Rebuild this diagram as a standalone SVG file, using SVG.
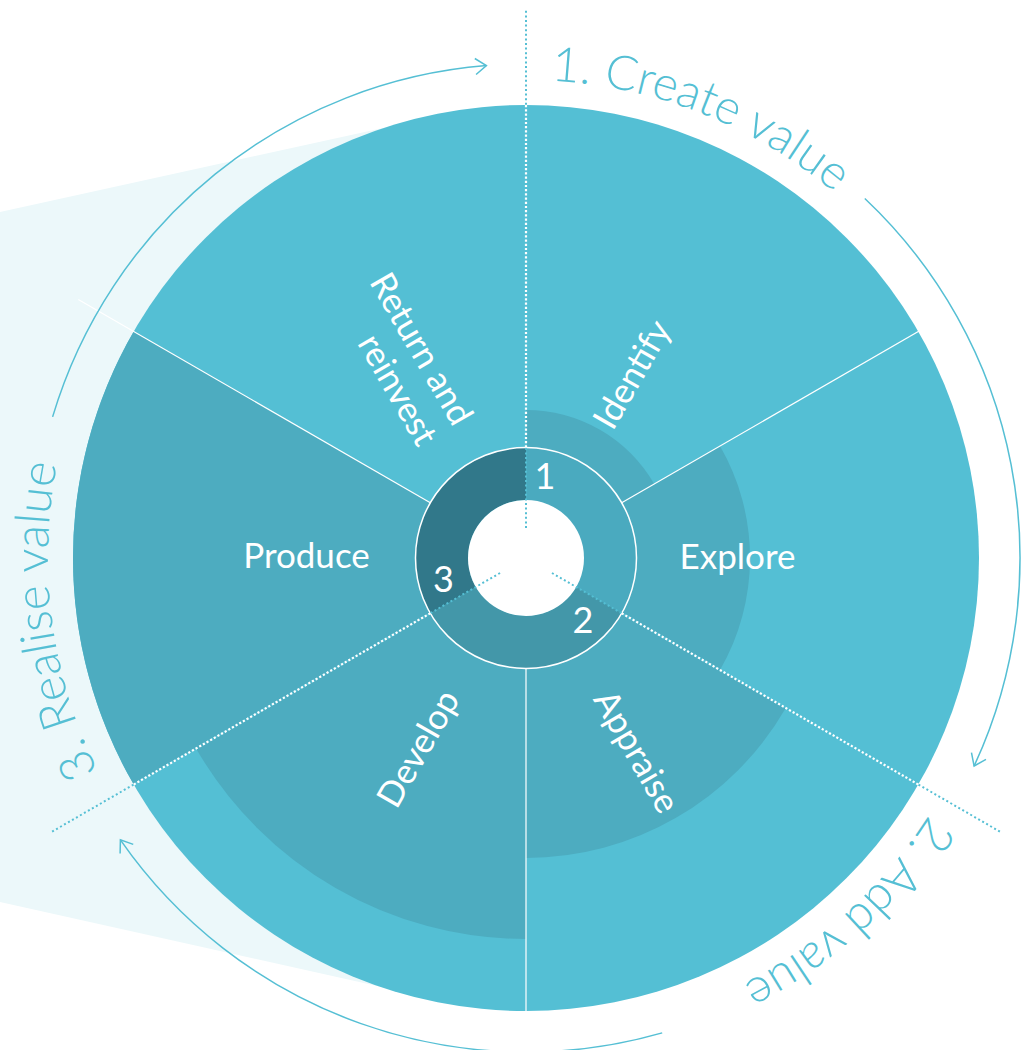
<svg xmlns="http://www.w3.org/2000/svg" width="1032" height="1050" viewBox="0 0 1032 1050">
<style>
.light{fill:#54BFD4}
.dark{fill:#4DACC0}
.sep{stroke:#FFFFFF;stroke-width:1.2;fill:none}
.dotT{stroke:#55BFD4;stroke-width:2;stroke-dasharray:2 2.6;fill:none}
.dotW{stroke:#FFFFFF;stroke-width:2.2;stroke-dasharray:2.2 2;fill:none}
.arc{stroke:#55BFD4;stroke-width:1.5;fill:none}
.lbl{font-family:Lato,'Liberation Sans',sans-serif;font-size:35px;fill:#FFFFFF}
.num{font-family:Lato,'Liberation Sans',sans-serif;font-size:36px;fill:#FFFFFF;text-anchor:middle}
.stage{font-family:Lato,'Liberation Sans',sans-serif;font-weight:300;font-size:48px;fill:#55BFD4}
</style>
<defs>
<marker id="arrow" markerUnits="userSpaceOnUse" markerWidth="30" markerHeight="30" viewBox="-15 -15 30 30" refX="0" refY="0" orient="auto">
<path d="M -11 -8 L 0 0 L -11 8" fill="none" stroke="#55BFD4" stroke-width="1.5"/>
</marker>
<path id="p1" d="M 551.0 80.7 A 478 478 0 0 1 939.96 319"/>
<path id="p2" d="M 929.1 814.8 A 478 478 0 0 1 526 1036"/>
<path id="p3" d="M 98.2 771.3 A 478 478 0 0 1 112.04 319"/>
</defs>

<g id="background">
<polygon points="0,212 440,115.5 526,558 440,1000 0,902" fill="#ECF8FA"/>
</g>

<g id="wheel">
<circle cx="526" cy="558" r="453" class="light"/>
<path class="dark" d="M 526 558 L 526 410 A 148 148 0 0 1 654.17 484 Z"/>
<path class="dark" d="M 526 558 L 719.99 446 A 224 224 0 0 1 719.99 670 Z"/>
<path class="dark" d="M 526 558 L 785.81 708 A 300 300 0 0 1 526 858 Z"/>
<path class="dark" d="M 526 558 L 526 939 A 381 381 0 0 1 196.04 748.5 Z"/>
<path class="dark" d="M 526 558 L 133.69 784.5 A 453 453 0 0 1 133.69 331.5 Z"/>
</g>

<g id="connectors">
<line class="sep" x1="621.7" y1="502.75" x2="973.7" y2="299.5"/>
<line class="sep" x1="526" y1="668.5" x2="526" y2="1011"/>
<line class="sep" x1="430.3" y1="502.75" x2="78.3" y2="299.5"/>
<path class="arc" marker-end="url(#arrow)" d="M 52.6 416.9 A 494 494 0 0 1 486.4 65.6"/>
<path class="arc" marker-end="url(#arrow)" d="M 864.8 198.5 A 494 494 0 0 1 974.1 766.0"/>
<path class="arc" marker-end="url(#arrow)" d="M 662.2 1032.9 A 494 494 0 0 1 120.4 839.9"/>
</g>

<g id="ring">
<path d="M 526 473.75 A 84.25 84.25 0 0 1 598.96 600.125" fill="none" stroke="#4AAABF" stroke-width="52.5"/>
<path d="M 598.96 600.125 A 84.25 84.25 0 0 1 453.04 600.125" fill="none" stroke="#4397A9" stroke-width="52.5"/>
<path d="M 453.04 600.125 A 84.25 84.25 0 0 1 526 473.75" fill="none" stroke="#31788A" stroke-width="52.5"/>
<circle cx="526" cy="558" r="58" fill="#FFFFFF"/>
<circle cx="526" cy="558" r="110.5" fill="none" stroke="#FFFFFF" stroke-width="1.5"/>
</g>

<g id="dividers">
<line class="dotT" x1="526" y1="528" x2="526" y2="10"/>
<line class="dotT" x1="551.98" y1="573" x2="1000.58" y2="832"/>
<line class="dotT" x1="500.02" y1="573" x2="51.42" y2="832"/>
<line class="dotW" x1="526" y1="447.5" x2="526" y2="105"/>
<line class="dotW" x1="621.7" y1="613.25" x2="918.31" y2="784.5"/>
<line class="dotW" x1="430.3" y1="613.25" x2="133.69" y2="784.5"/>
</g>

<g id="node-1"><text class="num" x="545" y="489">1</text></g>
<g id="node-2"><text class="num" x="583" y="633">2</text></g>
<g id="node-3"><text class="num" x="443.5" y="592">3</text></g>

<g id="node-identify" transform="translate(526 558) rotate(-60)">
<text class="lbl" x="212" y="12" text-anchor="middle">Identify</text>
</g>
<g id="node-explore"><text class="lbl" x="737.5" y="569" text-anchor="middle">Explore</text></g>
<g id="node-appraise" transform="translate(526 558) rotate(60)">
<text class="lbl" x="223" y="13" text-anchor="middle">Appraise</text>
</g>
<g id="node-develop" transform="translate(526 558) rotate(-60)">
<text class="lbl" x="-219" y="14" text-anchor="middle">Develop</text>
</g>
<g id="node-produce"><text class="lbl" x="306.5" y="567.5" text-anchor="middle">Produce</text></g>
<g id="node-return" transform="translate(526 558) rotate(60)">
<text class="lbl" x="-149" y="-2" text-anchor="end">Return and</text>
<text class="lbl" x="-149" y="39" text-anchor="end">reinvest</text>
</g>

<g id="stage-1"><text class="stage"><textPath href="#p1">1. Create value</textPath></text></g>
<g id="stage-2"><text class="stage"><textPath href="#p2">2. Add value</textPath></text></g>
<g id="stage-3"><text class="stage"><textPath href="#p3">3. Realise value</textPath></text></g>
</svg>
